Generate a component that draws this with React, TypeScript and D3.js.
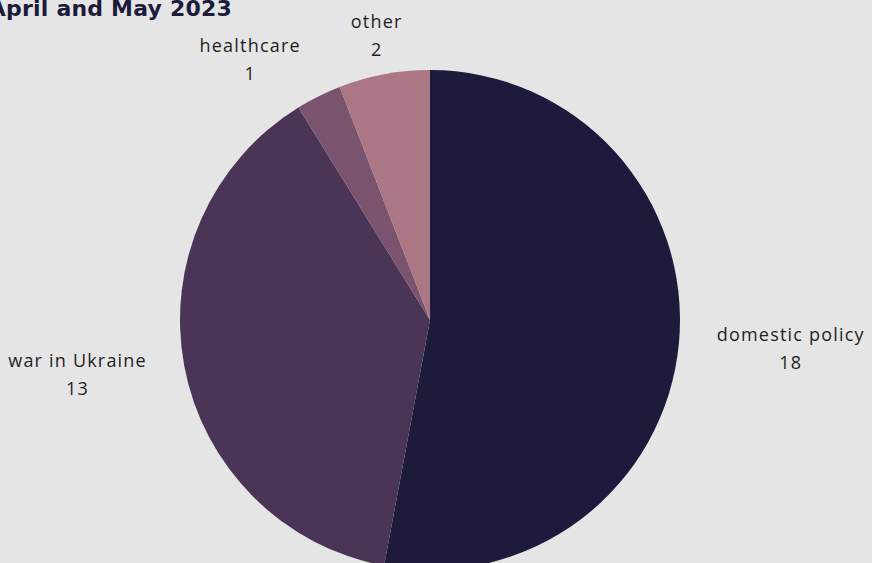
import { useEffect, useRef } from 'react'
import * as d3 from 'd3'

const categories = ['domestic policy', 'war in Ukraine', 'healthcare', 'other']
const counts = [18, 13, 1, 2]
const colors = ['#1c1b3b', '#4a3556', '#7a546f', '#ab7785']
const title = 'April and May 2023'

const width = 872
const height = 563

export default function App() {
  const svgRef = useRef<SVGSVGElement | null>(null)

  useEffect(() => {
    const svg = d3.select(svgRef.current)
    svg.selectAll('*').remove()
    svg.attr('viewBox', `0 0 ${width} ${height}`)

    svg
      .append('rect')
      .attr('width', width)
      .attr('height', height)
      .attr('fill', '#e5e5e5')

    const cx = 430
    const cy = 320
    const radius = 250

    const data = categories.map((c, i) => ({ name: c, value: counts[i], color: colors[i] }))
    type Row = (typeof data)[number]

    const pie = d3
      .pie<Row>()
      .sort(null)
      .value((d) => d.value)
    const arcs = pie(data)

    const arc = d3.arc<d3.PieArcDatum<Row>>().innerRadius(0).outerRadius(radius)

    const g = svg.append('g').attr('transform', `translate(${cx},${cy})`)

    g.selectAll('path')
      .data(arcs)
      .join('path')
      .attr('d', arc)
      .attr('fill', (d) => d.data.color)

    // ================= LABELS =================
    const boxH = 54
    const sideR = 288
    const topR = 263
    const gap = 50

    const lg = g
      .selectAll<SVGTextElement, d3.PieArcDatum<Row>>('.label')
      .data(arcs)
      .join('text')
      .attr('class', 'label')
      .attr('text-anchor', 'middle')
      .attr('font-family', '"Open Sans", sans-serif')
      .attr('font-size', 18)
      .attr('letter-spacing', 1.2)
      .attr('fill', '#1f1f1f')

    lg.append('tspan').attr('class', 'l1').text((d) => d.data.name)
    lg.append('tspan').attr('class', 'l2').text((d) => String(d.data.value))

    const placeLabels = () => {
      const boxes = arcs.map((a, i) => {
        const node = lg.nodes()[i].querySelector('.l1') as SVGTSpanElement
        const w = node.getComputedTextLength()
        const mid = (a.startAngle + a.endAngle) / 2
        const s = Math.sin(mid)
        const c = Math.cos(mid)
        if (Math.abs(s) > 0.7) {
          return { w, x: sideR * s + Math.sign(s) * (w / 2), y: -sideR * c }
        }
        return { w, x: topR * s - 5, y: -topR * c - Math.sign(c) * (boxH / 2) }
      })

      // push overlapping labels outward horizontally
      for (let i = boxes.length - 1; i > 0; i--) {
        const p = boxes[i]
        for (let j = i - 1; j >= 0; j--) {
          const q = boxes[j]
          if (Math.abs(p.y - q.y) >= boxH) continue
          const overlap = p.w / 2 + q.w / 2 + gap - Math.abs(p.x - q.x)
          if (overlap > 0 && Math.abs(q.x) > Math.abs(p.x) && Math.sign(q.x) === Math.sign(p.x)) {
            q.x += Math.sign(q.x) * overlap
          }
        }
      }

      lg.select('.l1')
        .attr('x', (_, i) => boxes[i].x)
        .attr('y', (_, i) => boxes[i].y - 6)
      lg.select('.l2')
        .attr('x', (_, i) => boxes[i].x)
        .attr('y', (_, i) => boxes[i].y + 22)
    }

    placeLabels()
    document.fonts.ready.then(placeLabels)

    // ================= TITLE =================
    svg
      .append('text')
      .attr('x', 232)
      .attr('y', 16)
      .attr('text-anchor', 'end')
      .attr('font-family', '"DejaVu Sans", sans-serif')
      .attr('font-weight', 700)
      .attr('font-size', 22)
      .attr('letter-spacing', 0.2)
      .attr('fill', '#1c1b3b')
      .text(title)
  }, [])

  return (
    <svg
      ref={svgRef}
      width={width}
      height={height}
      style={{ position: 'absolute', left: 0, top: 0, display: 'block' }}
    />
  )
}
